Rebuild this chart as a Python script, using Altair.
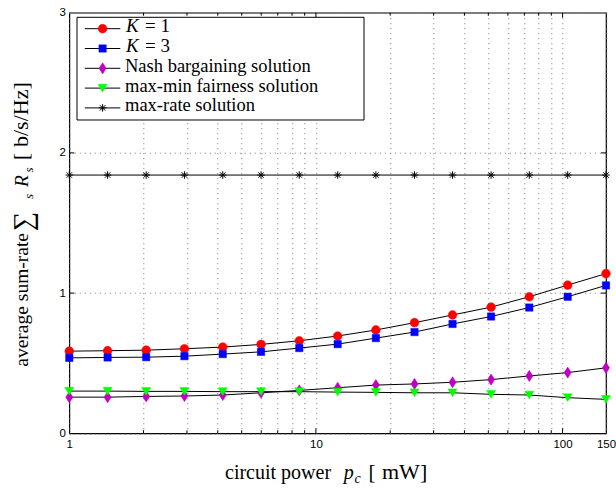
import altair as alt
import pandas as pd

# ---- data ----
x_vals = [1, 1.43, 2.05, 2.93, 4.19, 5.99, 8.56, 12.25, 17.5, 25.1, 35.8, 51.3, 73.3, 104.9, 150]
k1 = [0.586, 0.589, 0.593, 0.603, 0.615, 0.634, 0.660, 0.694, 0.737, 0.789, 0.844, 0.900, 0.974, 1.057, 1.139]
k3 = [0.538, 0.541, 0.543, 0.550, 0.565, 0.581, 0.608, 0.636, 0.679, 0.722, 0.780, 0.833, 0.897, 0.974, 1.055]
nash = [0.258, 0.258, 0.263, 0.266, 0.273, 0.289, 0.306, 0.325, 0.344, 0.352, 0.364, 0.383, 0.409, 0.433, 0.467]
maxmin = [0.301, 0.301, 0.299, 0.299, 0.297, 0.297, 0.297, 0.294, 0.292, 0.289, 0.289, 0.278, 0.273, 0.254, 0.242]
maxrate = [1.842, 1.842, 1.842, 1.842, 1.842, 1.842, 1.842, 1.842, 1.842, 1.842, 1.842, 1.842, 1.842, 1.842, 1.842]
series_names = ["K = 1", "K = 3", "Nash bargaining solution", "max-min fairness solution", "max-rate solution"]
y_ticks = [0, 1, 2, 3]
x_grid = [1, 2, 3, 4, 5, 6, 7, 8, 9, 10, 20, 30, 40, 50, 60, 70, 80, 90, 100, 150]
x_labels = [1, 10, 100, 150]
x_minor = [2, 3, 4, 5, 6, 7, 8, 9, 20, 30, 40, 50, 60, 70, 80, 90]
x_major = [10, 100]
y_inner = [1, 2]

rows = []
for name, ys in zip(series_names, [k1, k3, nash, maxmin, maxrate]):
    for xv, yv in zip(x_vals, ys):
        rows.append({"series": name, "x": xv, "y": yv})
df = pd.DataFrame(rows)

# ---- layout ----
W, H = 536.7, 420.6
PL, PT = 69.3, 12.7
SERIF = "Liberation Serif, Times New Roman, Times, serif"
SANS = "Liberation Sans, Arial, Helvetica, sans-serif"

colors = ["#FF0000", "#0000FF", "#C000C0", "#00FF00", "black"]
diamond = "M0,-1.25L0.8,0L0,1.25L-0.8,0Z"
star = "M-1,0L1,0M0,-1L0,1M-0.72,-0.72L0.72,0.72M-0.72,0.72L0.72,-0.72"
shapes = ["circle", "square", diamond, "triangle-down", star]
sizes = [76, 54, 80, 80, 56]

xscale = alt.Scale(type="log", domain=[1, 150])
yscale = alt.Scale(domain=[0, 3])
lab_expr = "(" + "||".join(f"datum.value=={v}" for v in x_labels) + ") ? format(datum.value,'d') : ''"
xaxis = alt.Axis(values=x_grid, labelExpr=lab_expr, grid=True, gridDash=[1, 4], gridColor="#777",
                 gridWidth=1, ticks=False, domain=False, labelFont=SANS, labelFontSize=11.5,
                 labelColor="black", labelPadding=5, labelOverlap=False, labelFlush=False, title=None)
yaxis = alt.Axis(values=y_ticks, grid=True, gridDash=[1, 4], gridColor="#777", gridWidth=1,
                 ticks=False, domain=False, labelFont=SANS, labelFontSize=11.5, labelColor="black",
                 labelPadding=4, labelOverlap=False, title=None)

X = alt.X("x:Q", scale=xscale, axis=xaxis)
Y = alt.Y("y:Q", scale=yscale, axis=yaxis)

layers = []
layers.append(alt.Chart(df).mark_line(color="black", strokeWidth=1).encode(x=X, y=Y, detail="series:N"))
for name, col, shp, sz in zip(series_names, colors, shapes, sizes):
    if name == "max-rate solution":
        mk = alt.Chart(df).transform_filter(alt.datum.series == name).mark_point(
            shape=shp, filled=False, stroke="black", strokeWidth=1, size=sz, opacity=1)
    else:
        mk = alt.Chart(df).transform_filter(alt.datum.series == name).mark_point(
            shape=shp, filled=True, fill=col, stroke=col, strokeWidth=0.5, size=sz, opacity=1)
    layers.append(mk.encode(x=X, y=Y))

# inward ticks
tmin = pd.DataFrame({"x": x_minor})
tmaj = pd.DataFrame({"x": x_major})
tyy = pd.DataFrame({"y": y_inner})
for d, ln in [(tmin, 3), (tmaj, 5)]:
    layers.append(alt.Chart(d).mark_rule(color="black", strokeWidth=1).encode(
        x=X, y=alt.value(H), y2=alt.value(H - ln)))
    layers.append(alt.Chart(d).mark_rule(color="black", strokeWidth=1).encode(
        x=X, y=alt.value(0), y2=alt.value(ln)))
layers.append(alt.Chart(tyy).mark_rule(color="black", strokeWidth=1).encode(
    y=Y, x=alt.value(0), x2=alt.value(5)))
layers.append(alt.Chart(tyy).mark_rule(color="black", strokeWidth=1).encode(
    y=Y, x=alt.value(W - 5), x2=alt.value(W)))

one = pd.DataFrame({"a": [0]})


def txt(s, x, y, size=20, italic=False, angle=0, align="left", font=SERIF):
    kw = dict(text=s, font=font, fontSize=size, align=align, baseline="alphabetic", color="black")
    if italic:
        kw["fontStyle"] = "italic"
    if angle:
        kw["angle"] = angle
    return alt.Chart(one).mark_text(**kw).encode(x=alt.value(x), y=alt.value(y))


# legend
lx0, lx1, ly0, ly1 = 77 - PL, 364 - PL, 17.3 - PT, 120 - PT
layers.append(alt.Chart(one).mark_rect(fill="white", stroke="black", strokeWidth=1).encode(
    x=alt.value(lx0), x2=alt.value(lx1), y=alt.value(ly0), y2=alt.value(ly1)))
for i, (name, col, shp, sz) in enumerate(zip(series_names, colors, shapes, sizes)):
    iy = 28.7 + 19.8 * i - PT
    layers.append(alt.Chart(one).mark_rule(color="black", strokeWidth=1).encode(
        x=alt.value(84.8 - PL), x2=alt.value(120.3 - PL), y=alt.value(iy)))
    if name == "max-rate solution":
        mk = alt.Chart(one).mark_point(shape=shp, filled=False, stroke="black", strokeWidth=1, size=sz, opacity=1)
    else:
        mk = alt.Chart(one).mark_point(shape=shp, filled=True, fill=col, stroke=col, strokeWidth=0.5, size=sz, opacity=1)
    layers.append(mk.encode(x=alt.value(102.6 - PL), y=alt.value(iy)))
    if name.startswith("K"):
        layers.append(txt("K", 126 - PL, iy + 3.5, size=19, italic=True))
        layers.append(txt(name[2:], 145 - PL, iy + 3.5, size=19))
    else:
        layers.append(txt(name, 125 - PL, iy + 3.5, size=18.5))

# x axis title: circuit power p_c [mW]
bx = 479 - PT
layers.append(txt("circuit power", 225 - PL, bx, size=20))
layers.append(txt("p", 343.8 - PL, bx, size=20, italic=True))
layers.append(txt("c", 354.4 - PL, bx + 4, size=14, italic=True))
layers.append(txt("[", 368.6 - PL, bx, size=21))
layers.append(txt("mW]", 382 - PL, bx, size=22))

# y axis title: average sum-rate sum_s R_s [b/s/Hz]
by = 27.5 - PL
layers.append(txt("average sum-rate", by, 366.7 - PT, size=19.5, angle=270))
layers.append(txt("\u2211", 31.5 - PL, 231 - PT, size=27, angle=270))
layers.append(txt("s", 33 - PL, 199 - PT, size=13, italic=True, angle=270))
layers.append(txt("R", by, 187 - PT, size=19.5, italic=True, angle=270))
layers.append(txt("s", 33 - PL, 172.5 - PT, size=13, italic=True, angle=270))
layers.append(txt("[", by, 160 - PT, size=21, angle=270))
layers.append(txt("b/s/Hz]", by, 147 - PT, size=22, angle=270))

chart = alt.layer(*layers).properties(
    width=W, height=H,
    autosize=alt.AutoSizeParams(type="none"),
    padding={"left": PL, "top": PT, "right": 616 - PL - W, "bottom": 489 - PT - H},
    background="white",
).configure_view(stroke="black", strokeWidth=1.2)

chart.save("out.html", embed_options={"renderer": "svg", "actions": False})
